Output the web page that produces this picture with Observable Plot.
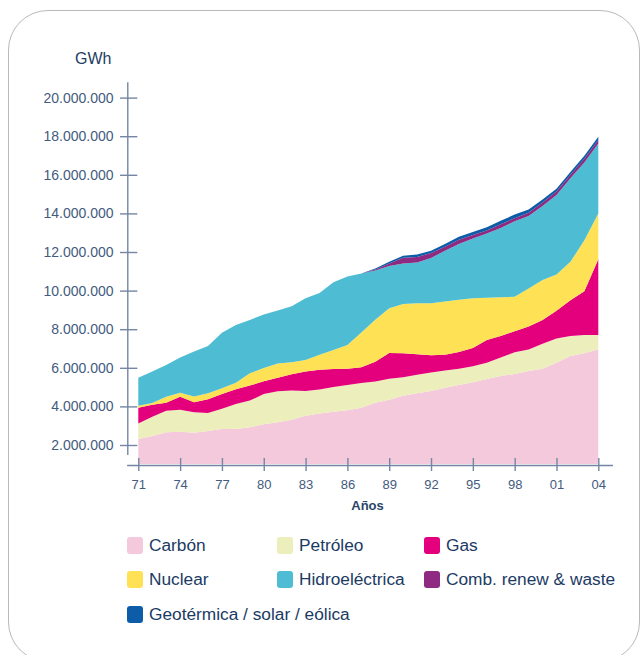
<!DOCTYPE html>
<html><head><meta charset="utf-8">
<script src="https://cdn.jsdelivr.net/npm/d3@7"></script>
<script src="https://cdn.jsdelivr.net/npm/@observablehq/plot@0.6"></script>
<style>
html,body{margin:0;padding:0;background:#fff;}
body{width:642px;height:655px;position:relative;overflow:hidden;font-family:"Liberation Sans",Arial,sans-serif;}
#card{position:absolute;left:8px;top:10px;width:632px;height:652px;border:1.5px solid #b9b9b9;border-radius:40px;box-sizing:border-box;}
#chart{position:absolute;left:0;top:0;}
#unit{position:absolute;left:75px;top:50px;font-size:16px;color:#1d3d66;font-weight:500;line-height:18px;}
.item{position:absolute;display:flex;align-items:center;font-size:17.3px;color:#1b3a64;white-space:nowrap;}
.sw{width:16px;height:17px;border-radius:3px;margin-right:6px;}
</style></head>
<body>
<div id="card"></div>
<div id="unit">GWh</div>
<div id="chart"></div>
<div id="legend"></div>
<script>
const years = [1971,1972,1973,1974,1975,1976,1977,1978,1979,1980,1981,1982,1983,1984,1985,1986,1987,1988,1989,1990,1991,1992,1993,1994,1995,1996,1997,1998,1999,2000,2001,2002,2003,2004];
const xTicks = [1971,1974,1977,1980,1983,1986,1989,1992,1995,1998,2001,2004];
const yTicks = [2000000,4000000,6000000,8000000,10000000,12000000,14000000,16000000,18000000,20000000];
const seriesNames = ["Carbón","Petróleo","Gas","Nuclear","Hidroeléctrica","Comb. renew & waste","Geotérmica / solar / eólica"];
const seriesColors = ["#f5c9dc","#eceebb","#e4007c","#ffe156","#4ebdd3","#8e2a81","#0c5ca8"];
// values in million GWh
const carbon   = [2.31,2.47,2.66,2.69,2.64,2.73,2.83,2.83,2.92,3.07,3.18,3.31,3.51,3.63,3.72,3.80,3.93,4.19,4.35,4.55,4.68,4.80,4.97,5.11,5.25,5.42,5.58,5.68,5.83,5.95,6.26,6.61,6.75,6.96];
const petroleo = [0.81,0.99,1.12,1.14,1.06,0.93,1.05,1.30,1.38,1.57,1.60,1.51,1.29,1.24,1.29,1.31,1.28,1.10,1.08,0.96,0.96,0.96,0.89,0.84,0.83,0.84,0.95,1.12,1.12,1.30,1.26,1.04,0.95,0.74];
const gas      = [0.81,0.62,0.41,0.67,0.52,0.71,0.76,0.76,0.78,0.66,0.71,0.84,1.01,1.03,0.93,0.84,0.82,1.03,1.34,1.24,1.06,0.89,0.82,0.87,0.94,1.18,1.12,1.10,1.19,1.23,1.43,1.85,2.27,3.92];
const nuclear  = [0.10,0.10,0.31,0.21,0.29,0.31,0.30,0.34,0.64,0.69,0.73,0.63,0.60,0.78,0.98,1.23,1.80,2.17,2.32,2.56,2.64,2.69,2.75,2.71,2.58,2.19,2.01,1.78,1.97,2.07,1.89,1.99,2.64,2.38];
const hidro    = [1.45,1.63,1.64,1.83,2.33,2.45,2.87,2.99,2.76,2.77,2.75,2.90,3.19,3.20,3.51,3.55,3.05,2.55,2.19,2.10,2.11,2.35,2.63,2.89,3.10,3.33,3.58,3.91,3.75,3.83,4.11,4.33,4.03,3.62];
const renew    = [0,0,0,0,0,0,0,0,0,0,0,0,0,0,0,0,0,0.05,0.13,0.29,0.29,0.26,0.21,0.21,0.18,0.16,0.20,0.16,0.18,0.18,0.18,0.18,0.19,0.18];
const geo      = [0,0,0,0,0,0,0,0,0,0,0,0,0,0,0,0,0,0.05,0.08,0.10,0.13,0.12,0.14,0.16,0.16,0.16,0.18,0.19,0.16,0.16,0.15,0.14,0.16,0.17];
const seriesValues = [carbon,petroleo,gas,nuclear,hidro,renew,geo];

const data = [];
seriesNames.forEach((name,i)=>years.forEach((yr,j)=>data.push({serie:name,year:yr,value:seriesValues[i][j]*1e6})));

const fmt = d3.formatLocale({decimal:",",thousands:".",grouping:[3],currency:["",""]}).format(",");
const axisColor = "#7486a3";
const chart = Plot.plot({
  width: 642, height: 520,
  marginLeft: 120, marginRight: 28, marginTop: 84, marginBottom: 56,
  style: {fontFamily: '"Liberation Sans", Arial, sans-serif', fontSize: "14px", color: "#435b7e", background: "transparent"},
  x: {domain: [1971, 2004], range: [138.3, 598.3]},
  y: {domain: [1015500, 20705000]},
  color: {domain: seriesNames, range: seriesColors},
  marks: [
    Plot.areaY(data, {x: "year", y: "value", fill: "serie", clip: true, curve: "linear"}),
    Plot.ruleX([1970.21], {y1: 1480000, y2: 20800000, stroke: axisColor, strokeWidth: 1.4}),
    Plot.ruleY(yTicks, {y: d => d, x1: 1969.69, x2: 1970.93, stroke: axisColor, strokeWidth: 1.4}),
    Plot.ruleY([964000], {x1: 1970.2, x2: 2005.05, stroke: axisColor, strokeWidth: 1.6}),
    Plot.ruleX(xTicks, {x: d => d, y1: 653000, y2: 1326000, stroke: axisColor, strokeWidth: 1.4}),
    Plot.axisY(yTicks, {tickSize: 0, tickPadding: 7, tickFormat: fmt, label: null, fontSize: 14}),
    Plot.axisX(xTicks, {tickSize: 0, tickPadding: 15, tickFormat: d => String(d).slice(2), label: null, fontSize: 13}),
    Plot.text(["Años"], {frameAnchor: "bottom", dy: 45, fontWeight: "bold", fontSize: 13, fill: "#2b4569"})
  ]
});
document.getElementById("chart").appendChild(chart);

const pos = [[127,535],[277,535],[424,535],[127,569],[277,569],[424,569],[127,604]];
const leg = document.getElementById("legend");
seriesNames.forEach((name,i)=>{
  const it = document.createElement("div");
  it.className = "item";
  it.style.left = pos[i][0] + "px";
  it.style.top = pos[i][1] + "px";
  it.innerHTML = `<span class="sw" style="background:${seriesColors[i]}"></span><span>${name}</span>`;
  leg.appendChild(it);
});
</script>
</body></html>
